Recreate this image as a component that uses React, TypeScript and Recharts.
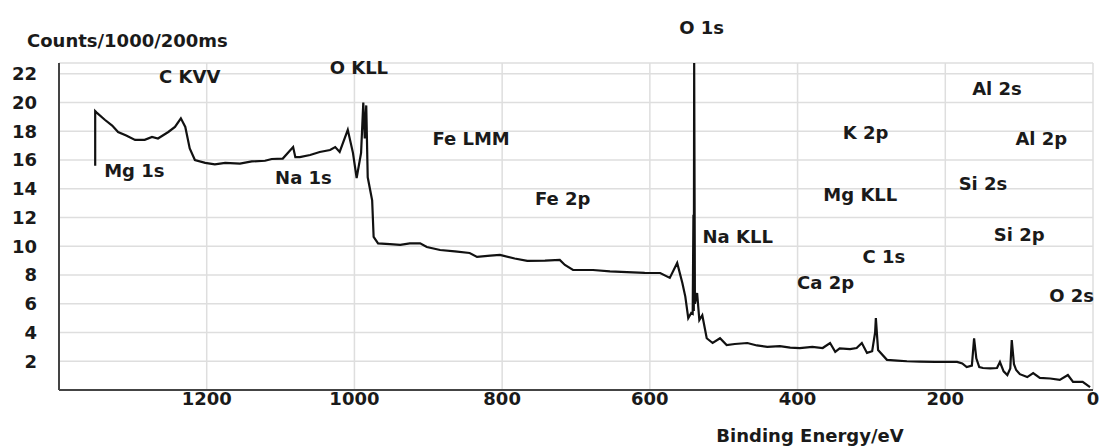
import { LineChart, Line, XAxis, YAxis, CartesianGrid, ReferenceDot } from "recharts";

// XPS survey spectrum, binding energy (eV) vs counts/1000/200ms
const energies = [
  1351, 1351, 1349, 1338, 1328, 1320, 1309, 1297, 1284, 1274, 1266, 1252, 1243, 1235, 1229, 1223,
  1216, 1202, 1189, 1175, 1155, 1139, 1121, 1112, 1097, 1083, 1080, 1074, 1060, 1047, 1033, 1026,
  1020, 1009, 1002, 997, 991, 988, 986, 984, 982, 976, 974, 968, 952, 938, 925, 911, 902, 884, 864,
  844, 834, 816, 803, 783, 766, 742, 722, 715, 704, 677, 654, 631, 607, 586, 573, 563, 556, 552,
  548, 544, 542, 541, 540.5, 540, 539, 536, 533, 529, 523, 515, 505, 496, 485, 468, 455, 441, 424,
  410, 397, 380, 366, 356, 349, 343, 329, 320, 313, 306, 299, 295, 294, 292, 291, 279, 265, 252,
  234, 214, 198, 184, 177, 171, 164, 161, 158, 154, 149, 139, 130, 126, 121, 116, 112, 110, 107,
  104, 99, 89, 81, 72, 58, 45, 34, 27, 14, 4,
];
const counts = [
  15.6, 19.4, 19.3, 18.8, 18.4, 17.95, 17.7, 17.4, 17.4, 17.6, 17.5, 17.95, 18.3, 18.9, 18.3, 16.8,
  16.0, 15.8, 15.7, 15.8, 15.75, 15.9, 15.95, 16.07, 16.1, 16.9, 16.2, 16.2, 16.35, 16.56, 16.7, 16.9,
  16.56, 18.1, 16.5, 14.75, 16.5, 20.0, 17.5, 19.8, 14.8, 13.2, 10.65, 10.2, 10.15, 10.1, 10.2, 10.2,
  9.95, 9.74, 9.65, 9.53, 9.26, 9.35, 9.4, 9.15, 8.98, 9.0, 9.05, 8.7, 8.35, 8.35, 8.25, 8.2, 8.15,
  8.14, 7.8, 8.84, 7.45, 6.5, 5.0, 5.36, 5.3, 12.2, 5.5, 22.75, 6.0, 6.75, 4.87, 5.2, 3.6, 3.27, 3.6,
  3.13, 3.2, 3.27, 3.1, 3.0, 3.05, 2.95, 2.92, 3.0, 2.92, 3.27, 2.65, 2.9, 2.85, 2.92, 3.27, 2.58,
  2.7, 4.0, 5.0, 3.5, 2.78, 2.1, 2.05, 2.0, 1.97, 1.95, 1.95, 1.95, 1.85, 1.6, 1.7, 3.6, 2.2, 1.6,
  1.53, 1.5, 1.53, 1.95, 1.3, 1.04, 1.5, 3.48, 1.8, 1.39, 1.1, 0.9, 1.18, 0.84, 0.8, 0.7, 1.04,
  0.56, 0.56, 0.2,
];

const peakNames = [
  "O 1s", "C KVV", "O KLL", "Mg 1s", "Na 1s", "Fe LMM", "Fe 2p", "Na KLL", "K 2p",
  "Mg KLL", "C 1s", "Ca 2p", "Al 2s", "Al 2p", "Si 2s", "Si 2p", "O 2s",
];
const peakEnergies = [530, 1223, 994, 1298, 1069, 842, 718, 481, 308, 315, 283, 362, 130, 70, 149, 100, 29];
const peakCounts = [25.2, 21.8, 22.4, 15.25, 14.8, 17.5, 13.3, 10.65, 17.9, 13.6, 9.25, 7.45, 21.0, 17.5, 14.35, 10.8, 6.6];

const xTicks = [0, 200, 400, 600, 800, 1000, 1200];
const yTicks = [2, 4, 6, 8, 10, 12, 14, 16, 18, 20, 22];

const FONT = "'DejaVu Sans', Verdana, sans-serif";
const tickStyle = { fontSize: 18, fontWeight: 700, fill: "#1a1a1a", fontFamily: FONT };

export default function App() {
  const data = energies.map((e, i) => ({ e, c: counts[i] }));

  return (
    <div style={{ position: "absolute", left: 0, top: 0, width: 1099, height: 446, background: "#fff" }}>
      <LineChart width={1099} height={446} data={data} margin={{ top: 63, right: 6, bottom: 26, left: 0 }}>
        <CartesianGrid stroke="#dedede" strokeWidth={1.5} />
        <XAxis
          dataKey="e"
          type="number"
          domain={[0, 1400]}
          reversed
          allowDataOverflow
          ticks={xTicks}
          tickLine={false}
          tickSize={0}
          tickMargin={2}
          axisLine={{ stroke: "#444", strokeWidth: 2 }}
          tick={tickStyle}
          height={30}
        />
        <YAxis
          type="number"
          domain={[0, 22.75]}
          allowDataOverflow
          ticks={yTicks}
          tickLine={false}
          tickSize={0}
          tickMargin={22}
          axisLine={{ stroke: "#444", strokeWidth: 2 }}
          tick={tickStyle}
          width={59}
        />
        <Line
          dataKey="c"
          type="linear"
          stroke="#111"
          strokeWidth={2.2}
          dot={false}
          isAnimationActive={false}
        />
        {peakNames.map((name, i) => (
          <ReferenceDot
            key={name}
            x={peakEnergies[i]}
            y={peakCounts[i]}
            r={0}
            fill="none"
            stroke="none"
            ifOverflow="visible"
            label={{ value: name, position: "center", ...tickStyle }}
          />
        ))}
      </LineChart>

      <div
        style={{
          position: "absolute", left: 27, top: 30, fontFamily: FONT, fontSize: 18,
          fontWeight: 700, color: "#1a1a1a", lineHeight: "22px", whiteSpace: "nowrap",
        }}
      >
        Counts/1000/200ms
      </div>
      <div
        style={{
          position: "absolute", left: 710, width: 200, top: 425, textAlign: "center", fontFamily: FONT,
          fontSize: 18, fontWeight: 700, color: "#1a1a1a", lineHeight: "22px", whiteSpace: "nowrap",
        }}
      >
        Binding Energy/eV
      </div>
    </div>
  );
}
